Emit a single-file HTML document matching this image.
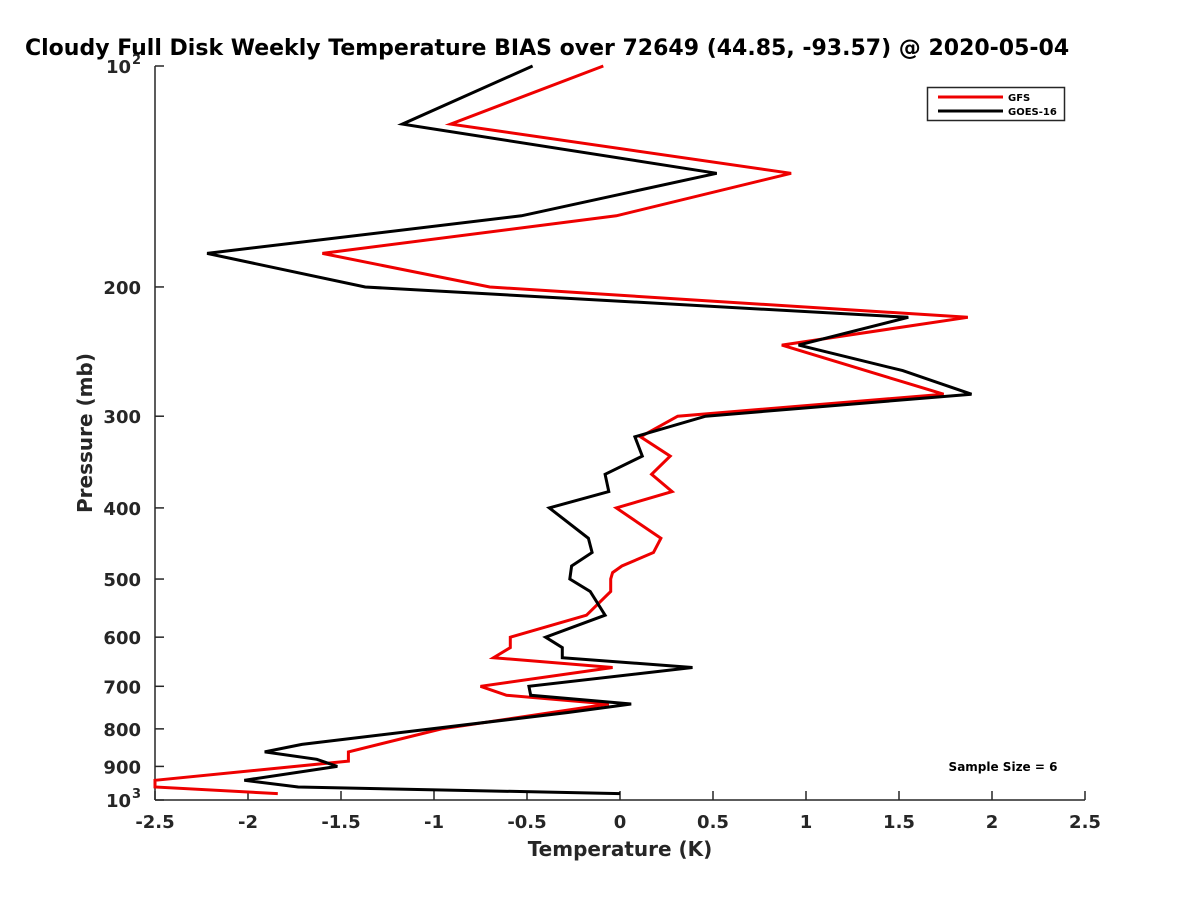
<!DOCTYPE html>
<html><head><meta charset="utf-8"><style>
html,body{margin:0;padding:0;background:#fff;}
svg{display:block;font-family:"DejaVu Sans","Liberation Sans",sans-serif;}
</style></head><body>
<svg id="chart" width="1200" height="900" viewBox="0 0 1200 900">
<rect width="1200" height="900" fill="#fff"/>
<text x="25" y="55" text-anchor="start" font-size="22" font-weight="bold" fill="#000">Cloudy Full Disk Weekly Temperature BIAS over 72649 (44.85, -93.57) @ 2020-05-04</text>
<g id="axes"></g>
<g id="series"></g>
<g>
<rect x="927.5" y="87.5" width="137" height="33" fill="#fff" stroke="#262626" stroke-width="1.5"/>
<line x1="938" y1="97" x2="1003" y2="97" stroke="#e00" stroke-width="3"/>
<text x="1008" y="101" font-size="10" font-weight="bold">GFS</text>
<line x1="938" y1="111" x2="1003" y2="111" stroke="#000" stroke-width="3"/>
<text x="1008" y="115" font-size="10" font-weight="bold">GOES-16</text>
</g>
<text x="1003" y="771" text-anchor="middle" font-size="12" font-weight="bold">Sample Size = 6</text>
<text x="620" y="856" text-anchor="middle" font-size="20" font-weight="bold" fill="#262626">Temperature (K)</text>
<text transform="translate(92,433) rotate(-90)" text-anchor="middle" font-size="20" font-weight="bold" fill="#262626">Pressure (mb)</text>
</svg>
<script>
const xTicks = [-2.5,-2,-1.5,-1,-0.5,0,0.5,1,1.5,2,2.5];
const xTickLabels = ["-2.5","-2","-1.5","-1","-0.5","0","0.5","1","1.5","2","2.5"];
const yTicks = [100,200,300,400,500,600,700,800,900,1000];
const yTickLabels = ["10|2","200","300","400","500","600","700","800","900","10|3"];
const gfsPressure = [100,120,140,160,180,200,220,240,280,300,320,340,360,380,400,440,460,480,490,500,520,560,600,620,640,660,700,720,740,800,860,885,940,960,980];
const gfsBias = [-0.09,-0.91,0.92,-0.02,-1.60,-0.70,1.87,0.87,1.74,0.31,0.11,0.27,0.17,0.28,-0.02,0.22,0.18,0.01,-0.04,-0.05,-0.05,-0.18,-0.59,-0.59,-0.68,-0.04,-0.75,-0.61,-0.06,-0.96,-1.46,-1.46,-2.5,-2.5,-1.84];
const goesPressure = [100,120,140,160,180,200,220,240,260,280,300,320,340,360,380,400,440,460,480,500,520,560,600,620,640,660,700,720,740,760,840,860,880,900,940,960,980];
const goesBias = [-0.47,-1.17,0.52,-0.53,-2.22,-1.37,1.55,0.96,1.52,1.89,0.46,0.08,0.12,-0.08,-0.06,-0.38,-0.17,-0.15,-0.26,-0.27,-0.16,-0.08,-0.40,-0.31,-0.31,0.39,-0.49,-0.48,0.06,-0.28,-1.71,-1.91,-1.63,-1.52,-2.02,-1.73,0.0];

const L=155,R=1085,T=66,B=800;
const xScale=v=>L+(v+2.5)/5*(R-L);
const yScale=p=>T+Math.log10(p/100)*(B-T);
const NS='http://www.w3.org/2000/svg';
function mk(tag,attrs,parent){const e=document.createElementNS(NS,tag);for(const k in attrs)e.setAttribute(k,attrs[k]);parent.appendChild(e);return e;}
const axes=document.getElementById('axes');
const yAxis=mk('line',{x1:L,y1:T,x2:L,y2:B,stroke:'#262626','stroke-width':1.5},axes);


const xAxis=mk('line',{x1:L,y1:B,x2:R,y2:B,stroke:'#262626','stroke-width':1.5},axes);


xTicks.forEach((v,i)=>{
  const x=xScale(v);
  const t=mk('line',{x1:x,y1:B,x2:x,y2:B-9,stroke:'#262626','stroke-width':1.5},axes);
  
  
  const lb=mk('text',{x:x,y:B+28,'text-anchor':'middle','font-size':18,'font-weight':'bold',fill:'#262626'},axes);
  lb.textContent=xTickLabels[i];
  
  
});
yTicks.forEach((p,i)=>{
  const y=yScale(p);
  const t=mk('line',{x1:L,y1:y,x2:L+9,y2:y,stroke:'#262626','stroke-width':1.5},axes);
  
  
  const parts=yTickLabels[i].split('|');
  if(parts.length===2){
    const lb=mk('text',{x:L-24,y:y+7,'text-anchor':'end','font-size':18,'font-weight':'bold',fill:'#262626'},axes);
    lb.textContent=parts[0];
    
    
    const sup=mk('text',{x:L-14,y:y-2,'text-anchor':'end','font-size':13,'font-weight':'bold',fill:'#262626'},axes);
    sup.textContent=parts[1];
    
    
  } else {
    const lb=mk('text',{x:L-14,y:y+7,'text-anchor':'end','font-size':18,'font-weight':'bold',fill:'#262626'},axes);
    lb.textContent=parts[0];
    
    
  }
});
const series=document.getElementById('series');
function drawLine(pres,vals,color,name){
  const pts=pres.map((p,i)=>xScale(vals[i]).toFixed(1)+','+yScale(p).toFixed(1)).join(' ');
  const pl=mk('polyline',{points:pts,fill:'none',stroke:color,'stroke-width':3,'stroke-linejoin':'miter'},series);
  
  
}
drawLine(gfsPressure,gfsBias,'#e00','gfs-bias-line');
drawLine(goesPressure,goesBias,'#000','goes16-bias-line');
</script>
</body></html>
